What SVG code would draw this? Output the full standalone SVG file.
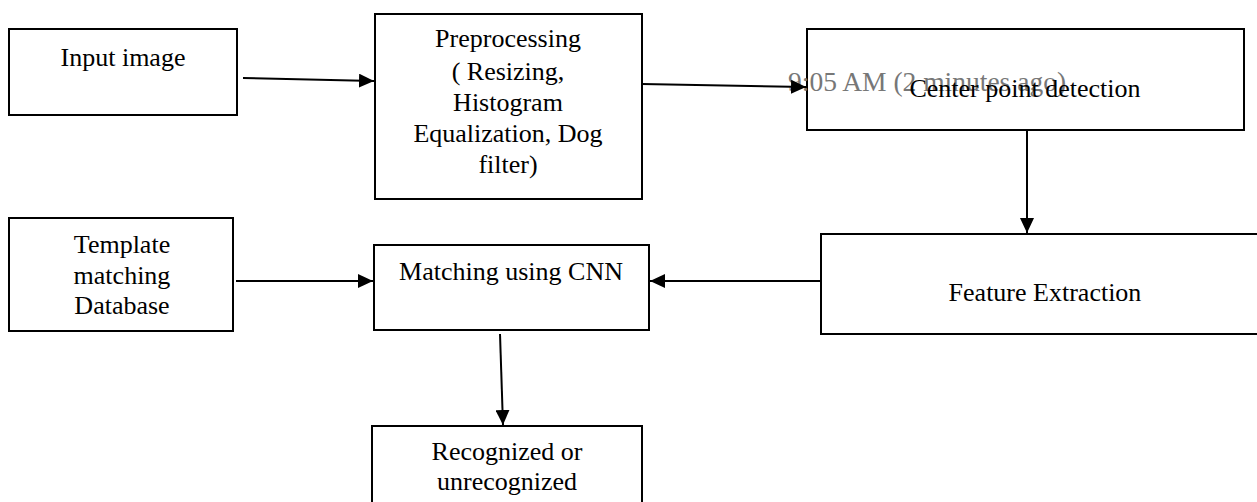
<svg xmlns="http://www.w3.org/2000/svg" width="1257" height="502" viewBox="0 0 1257 502">
<style>
.box{fill:#fff;stroke:#000;stroke-width:2}
.t{font-family:"Liberation Serif","Times New Roman",serif;font-size:26px;fill:#000;text-anchor:middle}
.ghost{font-family:"Liberation Serif","Times New Roman",serif;font-size:27.5px;fill:#777}
.c{stroke:#000;stroke-width:2;fill:none;marker-end:url(#ah)}
</style>
<defs>
<marker id="ah" viewBox="0 0 15 14" refX="15" refY="7" markerWidth="15" markerHeight="14" markerUnits="userSpaceOnUse" orient="auto">
<path d="M0,0 L15,7 L0,14 Z" fill="#000"/>
</marker>
</defs>
<g id="input"><rect class="box" x="9" y="29" width="228" height="86"/><text class="t" x="123" y="66">Input image</text></g>
<g id="preprocessing"><rect class="box" x="375" y="14" width="267" height="185"/>
<text class="t" x="508" y="47">Preprocessing</text>
<text class="t" x="508" y="80">( Resizing,</text>
<text class="t" x="508" y="111">Histogram</text>
<text class="t" x="508" y="142">Equalization, Dog</text>
<text class="t" x="508" y="173">filter)</text></g>
<g id="center"><rect class="box" x="807" y="29" width="437" height="101"/>
<text class="ghost" x="788" y="91">9:05 AM (2 minutes ago)</text>
<text class="t" x="1025" y="97">Center point detection</text></g>
<g id="feature"><rect class="box" x="821" y="234" width="440" height="100"/><text class="t" x="1045" y="301">Feature Extraction</text></g>
<g id="matching"><rect class="box" x="374" y="245" width="275" height="85"/><text class="t" x="511" y="280">Matching using CNN</text></g>
<g id="template"><rect class="box" x="9" y="218" width="224" height="113"/>
<text class="t" x="122" y="253">Template</text>
<text class="t" x="122" y="284">matching</text>
<text class="t" x="122" y="314">Database</text></g>
<g id="result"><rect class="box" x="372" y="426" width="270" height="80"/>
<text class="t" x="507" y="460">Recognized or</text>
<text class="t" x="507" y="490">unrecognized</text></g>
<g id="connectors">
<path class="c" d="M243,78 L374,81"/>
<path class="c" d="M642,84 L806,87"/>
<path class="c" d="M1027,130 L1027,233"/>
<path class="c" d="M821,281 L650,281"/>
<path class="c" d="M236,281 L373,281"/>
<path class="c" d="M500,334 L503,425"/>
</g>
</svg>
